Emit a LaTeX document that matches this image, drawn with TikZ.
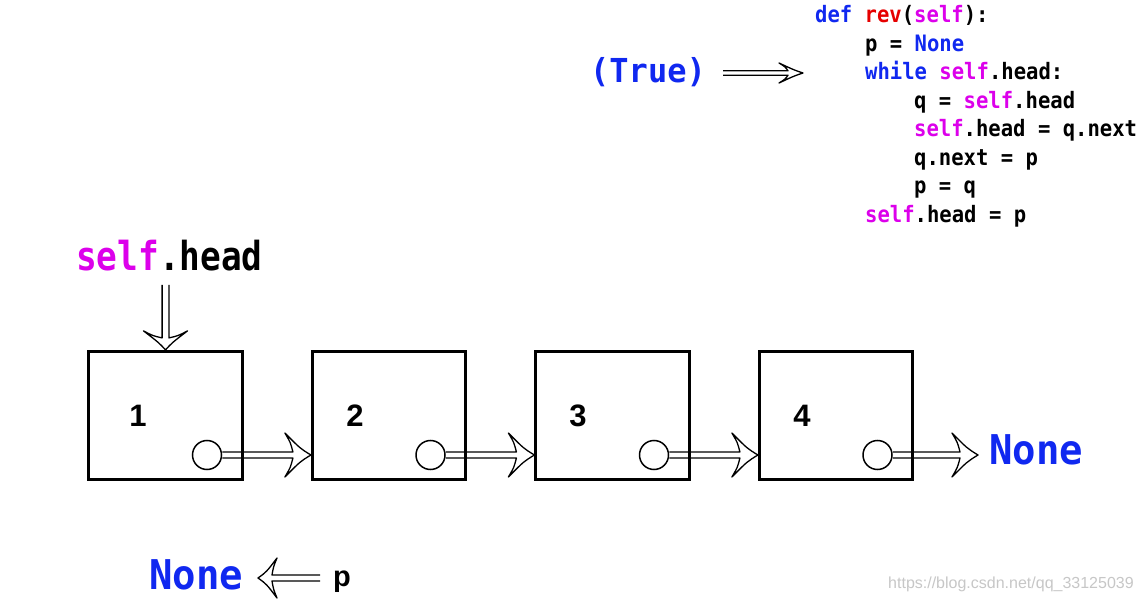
\documentclass[tikz,border=0pt]{standalone}
\usepackage{fontspec}
\usetikzlibrary{calc}
\newfontfamily\codefont{DejaVu Sans Mono}
\newfontfamily\arialfont{Liberation Sans}
\definecolor{kwblue}{RGB}{16,40,240}
\definecolor{kwred}{RGB}{230,0,0}
\definecolor{kwmag}{RGB}{220,0,235}
\newcommand\KB[1]{\textcolor{kwblue}{#1}}
\newcommand\KR[1]{\textcolor{kwred}{#1}}
\newcommand\KM[1]{\textcolor{kwmag}{#1}}
\tikzset{
  listbox/.style={draw, line width=2.7pt, minimum width=153.5pt, minimum height=128.5pt, inner sep=0pt},
  ptrcircle/.style={draw, circle, line width=1.5pt, minimum size=29pt, inner sep=0pt},
  numtext/.style={font=\arialfont\bfseries\fontsize{31}{31}\selectfont},
  codeline/.style={anchor=base west, inner sep=0pt, xscale=0.91, font=\codefont\bfseries\fontsize{22.6}{26}\selectfont},
  bigcode/.style={anchor=base west, inner sep=0pt, font=\codefont\bfseries},
  fatline/.style={draw=black, line width=1.3pt, line join=round}
}
% fat open arrow: start, end, shaft half width, tip length, barb offset, head half width
\newcommand\fatarr[6]{%
  \draw[fatline] let \p1=(#1), \p2=(#2), \n1={atan2(\y2-\y1,\x2-\x1)}, \n2={veclen(\x2-\x1,\y2-\y1)} in
    [shift={(\p1)}, rotate=\n1]
    (0pt,#3pt) -- ({(\n2-#4)*1pt},#3pt)
    .. controls ({(\n2-#4-0.3*#5)*1pt},{(#3+0.5*(#6-#3))*1pt}) .. ({(\n2-#4-#5)*1pt},#6pt)
    .. controls ({(\n2-0.6*#4)*1pt},{0.3*#6*1pt}) .. ({\n2*1pt},0pt)
    .. controls ({(\n2-0.6*#4)*1pt},{-0.3*#6*1pt}) .. ({(\n2-#4-#5)*1pt},-#6pt)
    .. controls ({(\n2-#4-0.3*#5)*1pt},{-(#3+0.5*(#6-#3))*1pt}) .. ({(\n2-#4)*1pt},-#3pt)
    -- (0pt,-#3pt);%
}
\begin{document}
\begin{tikzpicture}[x=1pt,y=-1pt]
\path[use as bounding box, fill=white] (0,0) rectangle (1140,601);

% code
\node[codeline] (l1) at (815,23) {\KB{def} \KR{rev}(\KM{self}):};
\node[codeline] (l2) at (865,51.5) {p = \KB{None}};
\node[codeline] (l3) at (865,80) {\KB{while} \KM{self}.head:};
\node[codeline] (l4) at (914,108.5) {q = \KM{self}.head};
\node[codeline] (l5) at (914,137) {\KM{self}.head = q.next};
\node[codeline] (l6) at (914,165.5) {q.next = p};
\node[codeline] (l7) at (914,194) {p = q};
\node[codeline] (l8) at (865,222.5) {\KM{self}.head = p};

% (True) arrow
\node[bigcode, xscale=0.97, font=\codefont\bfseries\fontsize{33}{33}\selectfont, text=kwblue] (tr) at (590,83) {(True)};
\coordinate (ts) at (723,73);
\coordinate (te) at (803,73);
\fatarr{ts}{te}{2.2}{15}{9}{10}

% self.head
\node[bigcode, xscale=0.86, font=\codefont\bfseries\fontsize{40}{40}\selectfont] (sh) at (76,271) {\KM{self}.head};

% boxes
\foreach \i/\x/\d in {1/165.5/27.5,2/389/34,3/612.5/34.5,4/836/34}{
  \node[listbox] (b\i) at (\x,415.5) {};
  \node[numtext] (n\i) at (\x-\d,416) {\i};
  \node[ptrcircle] (c\i) at (\x+41.5,455) {};
}

\coordinate (hs) at (165.5,285);
\fatarr{hs}{b1.north}{3.4}{12}{7}{22}

\fatarr{c1.east}{c1 -| b2.west}{3}{18}{8}{22}
\fatarr{c2.east}{c2 -| b3.west}{3}{18}{8}{22}
\fatarr{c3.east}{c3 -| b4.west}{3}{18}{8}{22}
\coordinate (ne) at (978,455);
\fatarr{c4.east}{ne}{3}{18}{8}{22}

\node[bigcode, xscale=0.95, text=kwblue, font=\codefont\bfseries\fontsize{41}{41}\selectfont] (none1) at (989,464) {None};

% bottom
\node[bigcode, xscale=0.95, text=kwblue, font=\codefont\bfseries\fontsize{41}{41}\selectfont] (none2) at (149,589) {None};
\node[anchor=base west, inner sep=0pt, font=\arialfont\bfseries\fontsize{29}{29}\selectfont] (p) at (333,586) {p};
\coordinate (ps) at (320,578);
\coordinate (pe) at (258,578);
\fatarr{ps}{pe}{3}{14}{5}{20}

% watermark
\node[anchor=base west, inner sep=0pt, text=black!22, font=\arialfont\fontsize{16}{16}\selectfont] (wm) at (888,588) {https://blog.csdn.net/qq\_33125039};
\end{tikzpicture}
\end{document}
